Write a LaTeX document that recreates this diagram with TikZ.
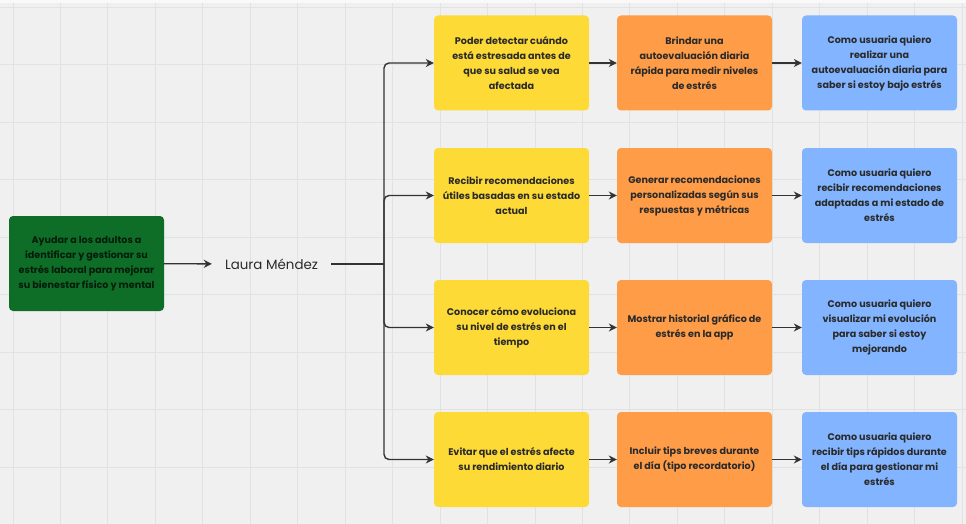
\documentclass[tikz,border=0pt]{standalone}
\usepackage{fontspec}
\setmainfont{Poppins}
\usetikzlibrary{arrows.meta}
\definecolor{bg}{HTML}{F0F0F0}
\definecolor{gridc}{HTML}{E2E2E2}
\definecolor{gr}{HTML}{0E6E28}
\definecolor{ye}{HTML}{FDDA35}
\definecolor{orr}{HTML}{FF9C47}
\definecolor{bl}{HTML}{82B4FF}
\definecolor{tx}{HTML}{2A2A2A}
\definecolor{ln}{HTML}{333333}
\tikzset{
  card/.style={rectangle, rounded corners=4pt, minimum width=155pt, minimum height=95pt,
    inner sep=0pt, align=center, text=tx, font=\fontsize{9.6}{15}\selectfont\bfseries},
  ycard/.style={card, fill=ye},
  ocard/.style={card, fill=orr},
  bcard/.style={card, fill=bl},
  gcard/.style={card, fill=gr, text=black!75!gr},
  conn/.style={draw=ln, line width=1.4pt},
  arr/.style={conn, -{Stealth[length=8pt,width=8pt]}},
}
\begin{document}
\begin{tikzpicture}[x=1pt,y=-1pt]
\useasboundingbox (0,0) rectangle (966,524);
\fill[bg] (0,0) rectangle (966,524);
\fill[white!60!bg] (0,0) rectangle (966,3);
\foreach \i in {0,...,20} \draw[gridc, line width=0.9pt] ({13+47.45*\i},3) -- ({13+47.45*\i},524);
\foreach \j in {0,...,9} \draw[gridc, line width=0.9pt] (0,{7+57.5*\j}) -- (966,{7+57.5*\j});

\node[gcard] (g) at (86.5,263.5) {Ayudar a los adultos a\\identificar y gestionar su\\estrés laboral para mejorar\\su bienestar físico y mental};
\node[font=\fontsize{13.4}{15}\selectfont, text=tx, inner xsep=13pt, inner ysep=2pt] (laura) at (271.5,264) {Laura Méndez};
\coordinate (br) at (384,264);

\node[ycard] (y1) at (511.5,63) {Poder detectar cuándo\\está estresada antes de\\que su salud se vea\\afectada};
\node[ycard] (y2) at (511.5,195.5) {Recibir recomendaciones\\útiles basadas en su estado\\actual};
\node[ycard] (y3) at (511.5,327.5) {Conocer cómo evoluciona\\su nivel de estrés en el\\tiempo};
\node[ycard] (y4) at (511.5,459.5) {Evitar que el estrés afecte\\su rendimiento diario};

\node[ocard] (o1) at (694.5,63) {Brindar una\\autoevaluación diaria\\rápida para medir niveles\\de estrés};
\node[ocard] (o2) at (694.5,195.5) {Generar recomendaciones\\personalizadas según sus\\respuestas y métricas};
\node[ocard] (o3) at (694.5,327.5) {Mostrar historial gráfico de\\estrés en la app};
\node[ocard] (o4) at (694.5,459.5) {Incluir tips breves durante\\el día (tipo recordatorio)};

\node[bcard] (b1) at (879.5,63) {Como usuaria quiero\\realizar una\\autoevaluación diaria para\\saber si estoy bajo estrés};
\node[bcard] (b2) at (879.5,195.5) {Como usuaria quiero\\recibir recomendaciones\\adaptadas a mi estado de\\estrés};
\node[bcard] (b3) at (879.5,327.5) {Como usuaria quiero\\visualizar mi evolución\\para saber si estoy\\mejorando};
\node[bcard] (b4) at (879.5,459.5) {Como usuaria quiero\\recibir tips rápidos durante\\el día para gestionar mi\\estrés};

\draw[arr] (g) -- (laura);
\draw[conn] (laura) -- (br);
\foreach \k in {1,...,4} {
  \draw[arr, rounded corners=5pt] (br) |- (y\k.west);
  \draw[arr] (y\k) -- (o\k);
  \draw[arr] (o\k) -- (b\k);
}
\end{tikzpicture}
\end{document}
